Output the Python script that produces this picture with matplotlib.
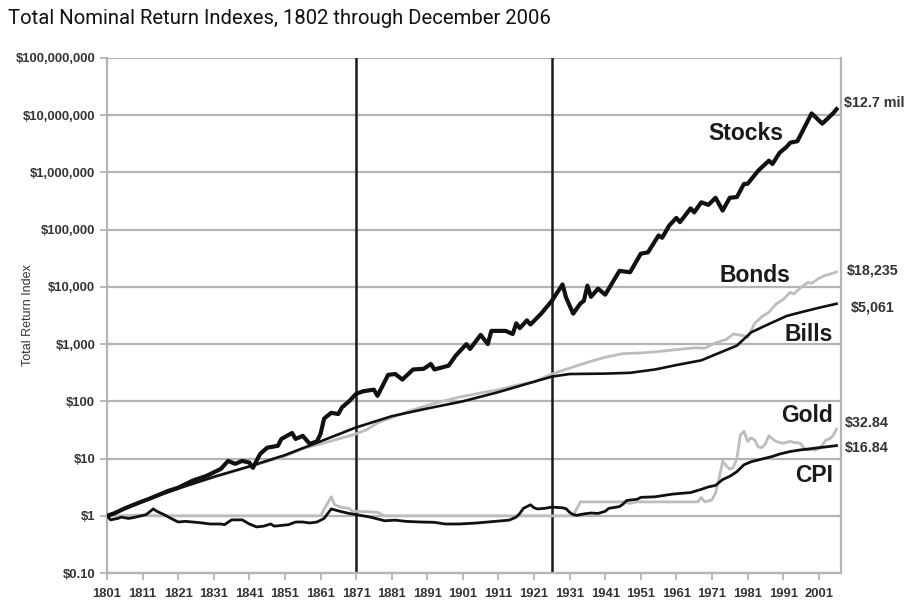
import matplotlib
matplotlib.use("Agg")
import matplotlib.pyplot as plt
from matplotlib.ticker import FixedLocator, NullLocator

# ---- data ----
stock_years = [1801, 1803, 1806, 1810, 1813, 1818, 1821, 1825, 1829, 1833, 1835, 1837, 1839,
               1841, 1842, 1844, 1846, 1849, 1850, 1853, 1854, 1856, 1858, 1860, 1861, 1862,
               1864, 1866, 1867, 1869, 1871, 1873, 1876, 1877, 1880, 1882, 1884, 1887, 1890,
               1892, 1893, 1897, 1899, 1902, 1903, 1906, 1908, 1909, 1913, 1915, 1916, 1917,
               1919, 1920, 1923, 1926, 1929, 1930, 1932, 1934, 1935, 1936, 1937, 1939, 1941,
               1945, 1948, 1951, 1953, 1956, 1957, 1959, 1961, 1962, 1965, 1966, 1968, 1970,
               1972, 1974, 1976, 1978, 1980, 1981, 1984, 1987, 1988, 1990, 1992, 1993, 1995,
               1999, 2002, 2005, 2006]
stock_vals = [1.0, 1.1, 1.35, 1.7, 2.0, 2.7, 3.1, 4.1, 5.0, 6.6, 9.1, 8.1, 9.1,
              8.5, 6.9, 12, 15.5, 16.7, 22, 28, 22, 25, 18, 20, 27, 50,
              63, 60, 78, 100, 135, 150, 160, 125, 290, 300, 240, 360, 370,
              450, 360, 420, 630, 1000, 820, 1450, 1000, 1700, 1700, 1500, 2300, 1900,
              2600, 2200, 3400, 5700, 11000, 6500, 3400, 5100, 5700, 10500, 6700, 9300, 7300,
              19000, 18000, 38000, 40000, 79000, 72000, 118000, 160000, 135000, 235000, 200000, 300000, 270000,
              360000, 215000, 360000, 370000, 630000, 630000, 1070000, 1600000, 1400000, 2200000, 2800000, 3300000, 3500000,
              10700000, 7100000, 10700000, 12700000]

bond_years = [1801, 1811, 1821, 1831, 1841, 1851, 1856, 1861, 1866, 1871, 1874, 1877, 1881,
              1886, 1891, 1899, 1906, 1911, 1916, 1921, 1926, 1931, 1936, 1941, 1946, 1951,
              1956, 1961, 1966, 1969, 1972, 1975, 1977, 1980, 1981, 1983, 1985, 1987, 1989,
              1991, 1993, 1994, 1996, 1998, 1999, 2001, 2003, 2004, 2006]
bond_vals = [1.0, 1.8, 3.0, 4.7, 7.2, 11, 15, 18, 22, 27, 32, 42, 52,
             68, 85, 115, 140, 160, 190, 220, 300, 380, 480, 590, 680, 700,
             740, 800, 860, 850, 1050, 1200, 1500, 1400, 1300, 2300, 3000, 3600, 5000,
             6000, 8000, 7500, 9800, 12000, 11500, 14000, 16000, 16500, 18235]

bill_years = [1801, 1811, 1821, 1831, 1841, 1851, 1861, 1871, 1881, 1891, 1901, 1911, 1921,
              1926, 1931, 1941, 1948, 1955, 1961, 1968, 1973, 1978, 1982, 1986, 1992, 1996,
              2001, 2006]
bill_vals = [1.0, 1.8, 3.0, 4.8, 7.3, 11.5, 20, 35, 55, 75, 100, 145, 220,
             270, 300, 305, 315, 360, 430, 520, 700, 940, 1600, 2100, 3100, 3600,
             4300, 5061]

gold_years = [1801, 1805, 1810, 1815, 1834, 1861, 1862, 1864, 1865, 1867, 1869, 1870, 1874,
              1877, 1879, 1932, 1934, 1946, 1948, 1950, 1967, 1968, 1969, 1971, 1972, 1973,
              1974, 1975, 1976, 1977, 1978, 1979, 1980, 1981, 1982, 1983, 1984, 1985, 1986,
              1987, 1988, 1989, 1990, 1991, 1993, 1994, 1995, 1996, 1997, 1998, 1999, 2000,
              2001, 2002, 2003, 2004, 2005, 2006]
gold_vals = [1.0, 1.0, 1.03, 1.0, 1.0, 1.0, 1.3, 2.15, 1.55, 1.4, 1.35, 1.2, 1.18,
             1.15, 1.0, 1.0, 1.75, 1.75, 1.65, 1.75, 1.75, 2.1, 1.75, 1.9, 2.5, 4.5,
             9.0, 7.5, 6.5, 7.0, 10, 26, 30, 20, 23, 21, 16, 15.5, 18,
             25, 22, 20, 19, 18.5, 20, 19, 19, 18, 15, 14, 14.5, 14,
             15, 17, 21, 22, 25, 32.84]

cpi_years = [1801, 1802, 1804, 1805, 1807, 1808, 1810, 1812, 1814, 1815, 1817, 1819, 1821,
             1823, 1825, 1827, 1830, 1833, 1834, 1836, 1839, 1841, 1843, 1845, 1847, 1848,
             1852, 1854, 1856, 1858, 1860, 1862, 1864, 1866, 1869, 1871, 1875, 1879, 1882,
             1885, 1889, 1893, 1896, 1900, 1905, 1910, 1914, 1916, 1917, 1918, 1920, 1921,
             1922, 1924, 1926, 1929, 1930, 1931, 1932, 1933, 1935, 1937, 1939, 1941, 1942,
             1945, 1946, 1947, 1950, 1951, 1955, 1960, 1965, 1968, 1970, 1972, 1974, 1976,
             1978, 1979, 1980, 1982, 1985, 1988, 1990, 1993, 1996, 2000, 2003, 2006]
cpi_vals = [1.0, 0.85, 0.9, 0.95, 0.9, 0.92, 0.98, 1.05, 1.32, 1.2, 1.05, 0.9, 0.78,
            0.8, 0.78, 0.76, 0.72, 0.72, 0.7, 0.85, 0.85, 0.72, 0.64, 0.66, 0.72, 0.66,
            0.7, 0.78, 0.78, 0.75, 0.78, 0.9, 1.32, 1.22, 1.1, 1.05, 0.95, 0.82, 0.84,
            0.8, 0.78, 0.77, 0.72, 0.72, 0.75, 0.8, 0.84, 0.95, 1.1, 1.35, 1.56, 1.38,
            1.32, 1.35, 1.42, 1.38, 1.33, 1.15, 1.05, 1.02, 1.08, 1.12, 1.1, 1.2, 1.35,
            1.45, 1.6, 1.85, 1.95, 2.1, 2.15, 2.4, 2.55, 2.9, 3.2, 3.4, 4.3, 4.9,
            5.9, 6.8, 7.8, 8.8, 9.8, 10.9, 12, 13.3, 14.2, 15.2, 16, 16.84]

x_ticks = list(range(1801, 2002, 10))
y_ticks = [0.1, 1, 10, 100, 1e3, 1e4, 1e5, 1e6, 1e7, 1e8]
y_labels = ["$0.10", "$1", "$10", "$100", "$1,000", "$10,000", "$100,000",
            "$1,000,000", "$10,000,000", "$100,000,000"]
era_lines = [1871, 1926]

series_labels = ["Stocks", "Bonds", "Bills", "Gold", "CPI"]
end_labels = ["$12.7 mil", "$18,235", "$5,061", "$32.84", "$16.84"]

title = "Total Nominal Return Indexes, 1802 through December 2006"

# ---- figure ----
plt.rcParams['font.family'] = ['Liberation Sans', 'DejaVu Sans']
fig = plt.figure(figsize=(9.07, 6.09), dpi=100)
ax = fig.add_axes([0.118, 0.059, 0.809, 0.846])

grid_c = '#b4b4b4'
gray_line = '#bdbdbd'

for yv in y_ticks:
    ax.axhline(yv, color=grid_c, lw=1.6, zorder=1)
for xv in era_lines:
    ax.axvline(xv, color='#1a1a1a', lw=1.8, zorder=2)

ax.plot(bond_years, bond_vals, color=gray_line, lw=2.0, zorder=3)
ax.plot(gold_years, gold_vals, color=gray_line, lw=2.0, zorder=3)
ax.plot(bill_years, bill_vals, color='#111111', lw=1.9, zorder=4)
ax.plot(cpi_years, cpi_vals, color='#111111', lw=2.0, zorder=4)
ax.plot(stock_years, stock_vals, color='#111111', lw=3.0, zorder=5)

ax.set_yscale('log')
ax.set_xlim(1801, 2007.2)
ax.set_ylim(0.1, 1e8)
ax.yaxis.set_major_locator(FixedLocator(y_ticks))
ax.yaxis.set_minor_locator(NullLocator())
ax.set_yticklabels(y_labels)
ax.set_xticks(x_ticks)
ax.set_xticklabels([str(x) for x in x_ticks])

for s in ax.spines.values():
    s.set_color(grid_c)
    s.set_linewidth(1.6)
ax.spines['top'].set_visible(False)
ax.tick_params(axis='both', colors=grid_c, width=1.3, length=5, labelcolor='#333333',
               labelsize=9.4)
for lab in ax.get_xticklabels() + ax.get_yticklabels():
    lab.set_fontweight('bold')
ax.tick_params(axis='x', pad=6)

ax.set_ylabel("Total Return Index", fontsize=9, color='#333333')
ax.yaxis.set_label_coords(-0.1, 0.5)

# series names inside the plot
name_pos = [(1980.5, 4.8e6), (1983.0, 1.58e4), (1998.2, 1.5e3), (1997.8, 56), (1999.6, 5.0)]
for name, (xp, yp) in zip(series_labels, name_pos):
    ax.text(xp, yp, name, fontsize=16.5, fontweight='bold', color='#1a1a1a',
            ha='center', va='center', zorder=6)

# end values right of the axes
end_y = [1.6e7, 1.9e4, 4.3e3, 42, 15.5]
end_x = [1.005, 1.008, 1.013, 1.005, 1.005]
for lab, xp, yp in zip(end_labels, end_x, end_y):
    ax.text(xp, yp, lab, transform=ax.get_yaxis_transform(), fontsize=10.3,
            fontweight='bold', color='#333333', ha='left', va='center')

fig.text(0.009, 0.97, title, fontsize=14.6, family=['Roboto', 'DejaVu Sans'],
         ha='left', va='center', color='#111111')

fig.savefig("out.png", dpi=100)
